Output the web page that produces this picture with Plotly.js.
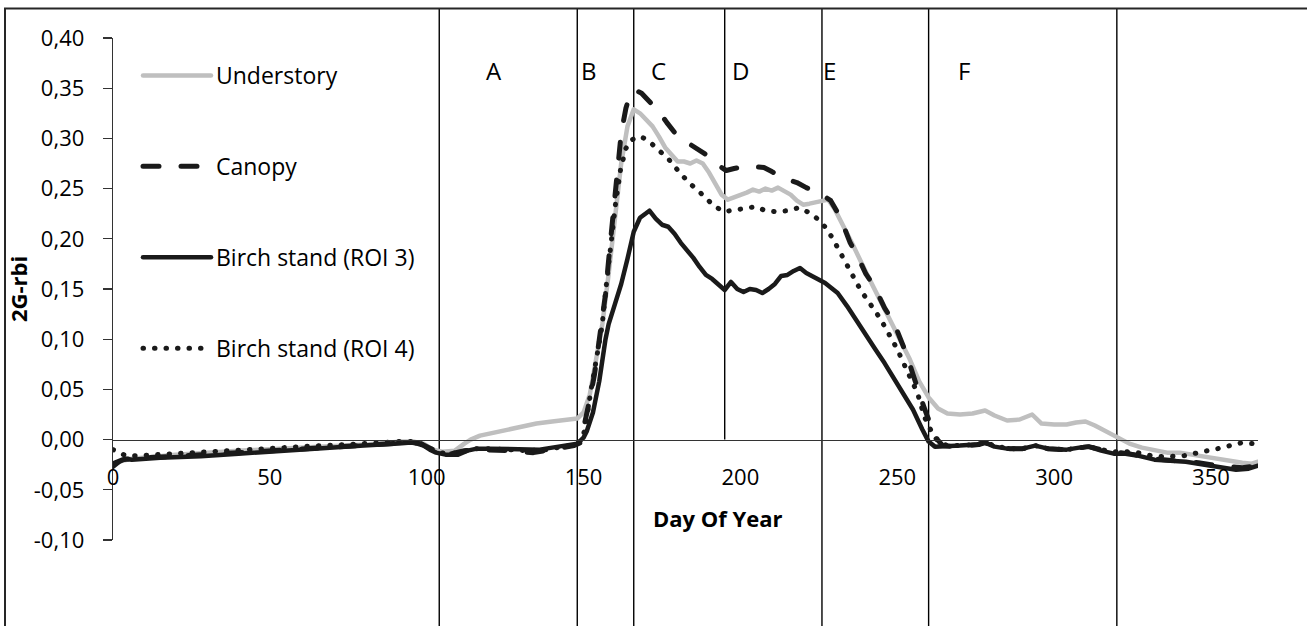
<!DOCTYPE html>
<html><head><meta charset="utf-8">
<script src="https://cdn.plot.ly/plotly-3.0.1.min.js"></script>
<style>
html,body{margin:0;padding:0;background:#fff;}
#chart{width:1307px;height:626px;}
.js-line{stroke-linecap:round;stroke-linejoin:round;}
</style></head><body><div id="chart"></div><script>
// ---- data ----
const seriesNames = ['Understory', 'Canopy', 'Birch stand (ROI 3)', 'Birch stand (ROI 4)'];

const understoryDays = [0,3,6,20,40,60,80,92,96,99,102,105,109,112,114,117,120,125,130,135,140,145,148,150,152,154,156,158,160,162,164,166,168,170,172,174,176,178,180,182,184,186,188,190,192,194,196,198,200,202,204,206,208,210,212,214,216,218,220,222,224,226,228,230,233,236,240,244,248,251,254,257,260,263,266,270,274,278,281,285,289,293,296,300,304,307,310,313,316,320,324,328,332,336,340,344,348,352,356,360,363,365];
const understory = [-0.025,-0.021,-0.019,-0.015,-0.011,-0.008,-0.005,-0.002,-0.002,-0.004,-0.010,-0.012,-0.011,-0.004,0.000,0.004,0.006,0.009,0.013,0.016,0.018,0.020,0.021,0.027,0.045,0.080,0.115,0.165,0.225,0.275,0.312,0.329,0.325,0.318,0.312,0.302,0.291,0.284,0.277,0.277,0.275,0.278,0.275,0.266,0.255,0.244,0.239,0.241,0.244,0.246,0.249,0.247,0.250,0.248,0.251,0.248,0.244,0.238,0.234,0.235,0.236,0.238,0.239,0.230,0.212,0.193,0.167,0.142,0.118,0.100,0.080,0.058,0.042,0.031,0.026,0.025,0.026,0.029,0.024,0.019,0.020,0.025,0.016,0.015,0.015,0.017,0.018,0.014,0.009,0.002,-0.004,-0.008,-0.011,-0.013,-0.013,-0.015,-0.018,-0.020,-0.022,-0.023,-0.024,-0.022];

const canopyDays = [0,3,6,15,28,40,50,60,70,80,91,95,98,101,104,108,112,116,120,126,130,134,138,143,147,149,150,152,153.5,155.5,157,158,159.5,161,162,163.5,165,166.5,168.5,170,172,174,176.5,178,180,182,184,186,188,190.5,192,194,195.5,198,201,204,207.5,210,212,215,218,221,223.5,226,228.8,231,233,235,237.3,240,242.6,246,249,251,253.2,255,256.4,258,259.6,261,262.8,264.5,268,272,276,278,282,286,290,294,298,303,308,311,315,319,323,327,331,336,341,346,350,355,360,365];
const canopy = [-0.024,-0.020,-0.019,-0.017,-0.015,-0.013,-0.011,-0.009,-0.007,-0.005,-0.003,-0.003,-0.004,-0.009,-0.013,-0.014,-0.011,-0.010,-0.010,-0.011,-0.012,-0.013,-0.011,-0.008,-0.006,-0.003,0.010,0.040,0.065,0.106,0.145,0.179,0.229,0.275,0.305,0.330,0.346,0.348,0.345,0.340,0.334,0.327,0.316,0.310,0.302,0.298,0.294,0.290,0.286,0.281,0.278,0.271,0.268,0.270,0.272,0.272,0.271,0.267,0.263,0.259,0.256,0.251,0.248,0.244,0.238,0.226,0.212,0.196,0.183,0.165,0.153,0.131,0.116,0.100,0.083,0.065,0.050,0.037,0.023,0.012,0.000,-0.006,-0.007,-0.006,-0.005,-0.003,-0.008,-0.009,-0.009,-0.006,-0.009,-0.010,-0.008,-0.007,-0.010,-0.012,-0.013,-0.016,-0.019,-0.020,-0.021,-0.023,-0.025,-0.027,-0.028,-0.026];

const roi3Days = [0,2,4,6,15,28,40,49,60,70,80,91,95,97,99,101,103,106,110,113,116,120,125,130,136,140,145,148,150,151,153,155,157,158,160,162,164,166,168,170,171,173,175,177,179,181,183,185,187,189,191,193,195,197,199,201,203,205,207,209,211,213,215,217,219,221,223,225,227,229,231,234,237,240,243,246,249,252,255,258,260,262,265,270,275,278,281,285,290,294,298,304,308,311,315,319,324,328,332,337,342,346,350,354,358,362,365];
const roi3 = [-0.027,-0.022,-0.019,-0.020,-0.018,-0.0165,-0.014,-0.012,-0.010,-0.008,-0.006,-0.004,-0.003,-0.004,-0.006,-0.010,-0.013,-0.015,-0.015,-0.011,-0.009,-0.009,-0.009,-0.010,-0.010,-0.008,-0.006,-0.004,0.002,0.008,0.027,0.058,0.100,0.115,0.135,0.155,0.180,0.207,0.221,0.225,0.228,0.220,0.214,0.212,0.205,0.196,0.189,0.181,0.172,0.164,0.160,0.154,0.149,0.157,0.150,0.147,0.150,0.149,0.146,0.150,0.155,0.163,0.164,0.168,0.171,0.166,0.163,0.160,0.156,0.151,0.146,0.133,0.118,0.104,0.090,0.076,0.060,0.046,0.030,0.010,-0.002,-0.007,-0.007,-0.006,-0.005,-0.003,-0.007,-0.009,-0.009,-0.006,-0.009,-0.010,-0.008,-0.007,-0.011,-0.014,-0.014,-0.017,-0.020,-0.021,-0.022,-0.024,-0.026,-0.028,-0.030,-0.029,-0.026];

const roi4Days = [0,2,4,8,15,25,35,49,60,70,80,91,95,98,101,104,108,112,116,120,126,132,138,143,147,149,150.5,152.2,154,155.9,157.3,158.6,160.2,161.8,163.5,165,167.6,169.5,171.3,174,176.7,179,181,183.5,186.2,189,191.5,194.7,198,201,204.8,208,211.5,215,218.7,221.9,225,227.2,229.3,231.4,233,238.3,244.7,250,253.2,256.4,258.6,260.2,261.7,263.5,266,270,275,278,282,286,290,294,298,304,308,311,315,319,323,326.6,330.9,335.1,341.5,345.3,349,352.2,355.9,359.6,363.3,365];
const roi4 = [-0.010,-0.013,-0.016,-0.016,-0.015,-0.013,-0.012,-0.009,-0.007,-0.006,-0.004,-0.002,-0.002,-0.004,-0.009,-0.013,-0.014,-0.011,-0.009,-0.009,-0.010,-0.011,-0.010,-0.007,-0.005,-0.002,0.010,0.046,0.078,0.113,0.155,0.196,0.235,0.269,0.290,0.298,0.302,0.300,0.296,0.288,0.281,0.272,0.264,0.256,0.249,0.240,0.233,0.227,0.228,0.230,0.232,0.228,0.227,0.228,0.231,0.226,0.219,0.211,0.201,0.189,0.179,0.149,0.120,0.090,0.068,0.047,0.023,0.013,0.003,-0.003,-0.006,-0.006,-0.005,-0.003,-0.007,-0.009,-0.009,-0.006,-0.009,-0.010,-0.008,-0.007,-0.010,-0.012,-0.012,-0.013,-0.016,-0.017,-0.016,-0.013,-0.011,-0.009,-0.0066,-0.0033,-0.004,-0.004];

const phaseBoundaries = [104, 148, 166, 195, 226, 260, 320];
const phaseLabels = ['A', 'B', 'C', 'D', 'E', 'F'];

const xTickVals = [0, 50, 100, 150, 200, 250, 300, 350];
const xTickLabels = ['0', '50', '100', '150', '200', '250', '300', '350'];
const yTickVals = [-0.10, -0.05, 0, 0.05, 0.10, 0.15, 0.20, 0.25, 0.30, 0.35, 0.40];
const yTickLabels = ['-0,10', '-0,05', '0,00', '0,05', '0,10', '0,15', '0,20', '0,25', '0,30', '0,35', '0,40'];

// ---- layout helpers (positions / styles) ----
const W = 1307, H = 626;
const M = {l: 113, r: 49, t: 38, b: 86};
const pw = W - M.l - M.r, ph = H - M.t - M.b;
const px2x = p => (p - M.l) / pw;
const py2y = p => (H - M.b - p) / ph;
const yRange = [-0.10, 0.40];
const zeroPaper = (0 - yRange[0]) / (yRange[1] - yRange[0]);
const FONT = '"Open Sans", sans-serif';
const DARK = '#1a1a1a';

const phaseLabelDays = [121.3, 151.6, 173.9, 200.1, 228.5, 271.2];
const phaseStopsAtZero = [false, false, false, true, false, false, false];

const styles = [
  {color: '#bfbfbf', width: 4.5, dash: 'solid'},
  {color: DARK, width: 5, dash: '16px,22px'},
  {color: DARK, width: 4.5, dash: 'solid'},
  {color: DARK, width: 5, dash: '0.5px,11px'}
];
const xs = [understoryDays, canopyDays, roi3Days, roi4Days];
const ys = [understory, canopy, roi3, roi4];

const traces = seriesNames.map((name, i) => ({
  type: 'scatter', mode: 'lines', name: name, legendgroup: 'g' + i,
  x: xs[i], y: ys[i],
  line: {color: styles[i].color, width: styles[i].width, dash: styles[i].dash},
  hoverinfo: 'skip'
}));

const shapes = [];
// outer chart border (partially cropped in the reference)
shapes.push({type: 'rect', xref: 'paper', yref: 'paper',
  x0: px2x(5), x1: px2x(1330), y0: py2y(650), y1: py2y(8.5),
  line: {color: '#262626', width: 2}, fillcolor: 'rgba(0,0,0,0)', layer: 'above'});
phaseBoundaries.forEach((d, i) => {
  shapes.push({type: 'line', xref: 'x', yref: 'paper', x0: d, x1: d,
    y0: phaseStopsAtZero[i] ? zeroPaper : py2y(640), y1: py2y(8.5),
    line: {color: '#000', width: 1.4}, layer: 'below'});
});

const annotations = phaseLabels.map((t, i) => ({
  text: t, xref: 'x', yref: 'paper', x: phaseLabelDays[i], y: py2y(70),
  xanchor: 'center', yanchor: 'middle', showarrow: false,
  font: {family: FONT, size: 24, color: '#000'}
}));
annotations.push({text: 'Day Of Year', xref: 'paper', yref: 'paper',
  x: px2x(718), y: py2y(518), xanchor: 'center', yanchor: 'middle', showarrow: false,
  font: {family: FONT, size: 22, color: '#000', weight: 'bold'}});

const layout = {
  width: W, height: H,
  margin: {l: M.l, r: M.r, t: M.t, b: M.b, pad: 0},
  paper_bgcolor: '#fff', plot_bgcolor: 'rgba(0,0,0,0)',
  font: {family: FONT, size: 22, color: '#000'},
  showlegend: true,
  legend: {x: px2x(138), y: py2y(54), xanchor: 'left', yanchor: 'top',
    bgcolor: 'rgba(0,0,0,0)', borderwidth: 0, font: {family: FONT, size: 23, color: '#000'},
    itemwidth: 68, tracegroupgap: 58, traceorder: 'grouped'},
  xaxis: {range: [0, 365], anchor: 'free', position: zeroPaper,
    showline: true, linecolor: '#333', linewidth: 1.3,
    ticks: '', tickvals: xTickVals, ticktext: xTickLabels,
    showgrid: false, zeroline: false, ticklabelstandoff: 18, automargin: false, fixedrange: true},
  yaxis: {range: yRange, tickvals: yTickVals, ticktext: yTickLabels,
    ticks: 'outside', ticklen: 9, tickcolor: '#333', tickwidth: 1.3,
    showline: true, linecolor: '#333', linewidth: 1.3,
    showgrid: false, zeroline: false, ticklabelstandoff: 14, automargin: false, fixedrange: true,
    title: {text: '2G-rbi', font: {family: FONT, size: 22, color: '#000', weight: 'bold'}, standoff: 0}},
  shapes: shapes,
  annotations: annotations
};

Plotly.newPlot('chart', traces, layout, {displayModeBar: false, staticPlot: true});
</script></body></html>
